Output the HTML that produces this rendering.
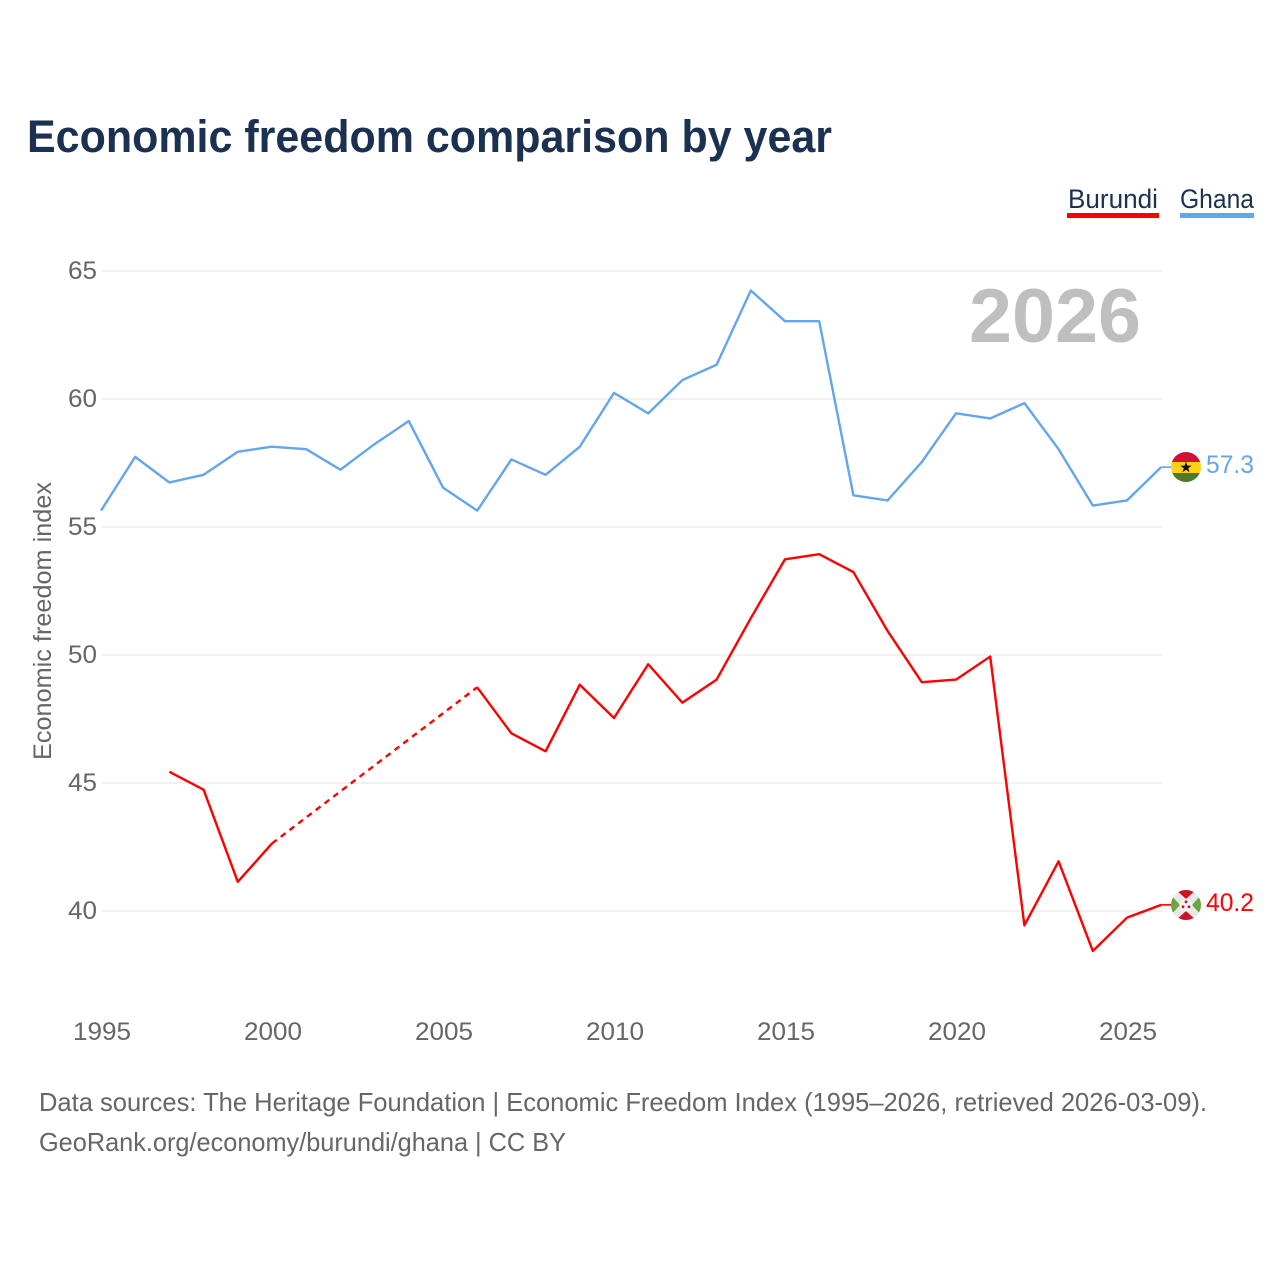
<!DOCTYPE html>
<html lang="en">
<head>
<meta charset="utf-8">
<title>Economic freedom comparison by year</title>
<style>
html,body{margin:0;padding:0;background:#fff;width:1280px;height:1280px;overflow:hidden}
svg{display:block;font-family:"Liberation Sans",sans-serif}
</style>
</head>
<body>
<svg id="chart" width="1280" height="1280" viewBox="0 0 1280 1280" xmlns="http://www.w3.org/2000/svg">
  <defs>
    <clipPath id="clip-ghana"><circle cx="1186" cy="467" r="15"/></clipPath>
    <clipPath id="clip-burundi"><circle cx="1186" cy="905" r="15"/></clipPath>
  </defs>
  <text x="27" y="152" font-size="45" font-weight="700" fill="#1a3152" textLength="805" lengthAdjust="spacingAndGlyphs">Economic freedom comparison by year</text>

  <g>
    <g>
      <text x="1068" y="208" font-size="27" fill="#1a3152" textLength="90" lengthAdjust="spacingAndGlyphs">Burundi</text>
      <rect x="1067" y="213" width="92" height="5" fill="#ff0000"/>
    </g>
    <g>
      <text x="1180" y="208" font-size="27" fill="#1a3152" textLength="74" lengthAdjust="spacingAndGlyphs">Ghana</text>
      <rect x="1180" y="213" width="74" height="5" fill="#63a6ed"/>
    </g>
  </g>

  <g id="grid"></g>
  <g id="y-ticks"></g>
  <g id="x-ticks"></g>

  <text transform="translate(51,760) rotate(-90)" font-size="25" fill="#666666" textLength="278" lengthAdjust="spacingAndGlyphs">Economic freedom index</text>

  <text x="969" y="342" font-size="76" font-weight="700" fill="#bfbfbf" textLength="172" lengthAdjust="spacingAndGlyphs">2026</text>

  <g id="series" transform="translate(-1,-1)"></g>

  <g clip-path="url(#clip-ghana)">
    <rect x="1171" y="452" width="30" height="10" fill="#d21034"/>
    <rect x="1171" y="462" width="30" height="11" fill="#fcd116"/>
    <rect x="1171" y="473" width="30" height="10" fill="#4f7a28"/>
    <polygon points="1186,461.5 1187.4,465.6 1191.7,465.6 1188.2,468.2 1189.5,472.3 1186,469.8 1182.5,472.3 1183.8,468.2 1180.3,465.6 1184.6,465.6" fill="#111"/>
  </g>
  <g clip-path="url(#clip-burundi)">
    <rect x="1171" y="890" width="30" height="30" fill="#e8e8e8"/>
    <polygon points="1175,889 1197,889 1186,899" fill="#ce1126"/>
    <polygon points="1175,921 1197,921 1186,911" fill="#ce1126"/>
    <polygon points="1170,894 1170,916 1180,905" fill="#6ba53f"/>
    <polygon points="1202,894 1202,916 1192,905" fill="#6ba53f"/>
    <circle cx="1186" cy="905" r="6.5" fill="#f4f4f4"/>
    <circle cx="1186" cy="901.8" r="1.4" fill="#ce1126"/>
    <circle cx="1183" cy="906.8" r="1.4" fill="#ce1126"/>
    <circle cx="1189" cy="906.8" r="1.4" fill="#ce1126"/>
  </g>

  <text x="1206" y="473" font-size="25" fill="#63a6ed" textLength="48" lengthAdjust="spacingAndGlyphs">57.3</text>
  <text x="1206" y="911" font-size="25" fill="#ff0000" textLength="48" lengthAdjust="spacingAndGlyphs">40.2</text>

  <text x="39" y="1111" font-size="26" fill="#666666" textLength="1168" lengthAdjust="spacingAndGlyphs">Data sources: The Heritage Foundation | Economic Freedom Index (1995–2026, retrieved 2026-03-09).</text>
  <text x="39" y="1151" font-size="26" fill="#666666" textLength="527" lengthAdjust="spacingAndGlyphs">GeoRank.org/economy/burundi/ghana | CC BY</text>
</svg>
<script>
const years = [1995,1996,1997,1998,1999,2000,2001,2002,2003,2004,2005,2006,2007,2008,2009,2010,2011,2012,2013,2014,2015,2016,2017,2018,2019,2020,2021,2022,2023,2024,2025,2026];
const ghanaValues = [55.6,57.7,56.7,57.0,57.9,58.1,58.0,57.2,58.2,59.1,56.5,55.6,57.6,57.0,58.1,60.2,59.4,60.7,61.3,64.2,63.0,63.0,56.2,56.0,57.5,59.4,59.2,59.8,58.0,55.8,56.0,57.3];
const burundiValues = [null,null,45.4,44.7,41.1,42.6,null,null,null,null,null,48.7,46.9,46.2,48.8,47.5,49.6,48.1,49.0,51.4,53.7,53.9,53.2,50.9,48.9,49.0,49.9,39.4,41.9,38.4,39.7,40.2];
const yTickValues = [40,45,50,55,60,65];
const xTickValues = [1995,2000,2005,2010,2015,2020,2025];

const NS = 'http://www.w3.org/2000/svg';
const xScale = function (year) { return 102 + (year - 1995) * (1128 - 102) / 30; };
const yScale = function (value) { return 911 - (value - 40) * (911 - 271) / 25; };

function make(tag, parent, attrs) {
  const el = document.createElementNS(NS, tag);
  Object.keys(attrs).forEach(function (k) { el.setAttribute(k, attrs[k]); });
  parent.appendChild(el);
  return el;
}

const gridGroup = document.getElementById('grid');
const yTickGroup = document.getElementById('y-ticks');
yTickValues.forEach(function (v) {
  const line = make('line', gridGroup, { x1: 102, x2: 1162, y1: yScale(v), y2: yScale(v), stroke: '#ececec', 'stroke-width': 1.6 });
  
  
  const label = make('text', yTickGroup, { x: 97, y: yScale(v) + 8, 'text-anchor': 'end', 'font-size': 25, fill: '#666666', textLength: 29, lengthAdjust: 'spacingAndGlyphs' });
  label.textContent = v;
  
  
});

const xTickGroup = document.getElementById('x-ticks');
xTickValues.forEach(function (year) {
  const label = make('text', xTickGroup, { x: xScale(year) - 29, y: 1040, 'font-size': 25, fill: '#666666', textLength: 58, lengthAdjust: 'spacingAndGlyphs' });
  label.textContent = year;
  
  
});

const seriesGroup = document.getElementById('series');
function drawSeries(name, values, color) {
  let solid = '';
  let dashed = '';
  let prev = -1;
  values.forEach(function (v, i) {
    if (v === null) return;
    const pt = xScale(years[i]).toFixed(2) + ' ' + yScale(v).toFixed(2);
    if (prev === -1) {
      solid += 'M' + pt;
    } else if (i - prev > 1) {
      dashed += 'M' + xScale(years[prev]).toFixed(2) + ' ' + yScale(values[prev]).toFixed(2) + 'L' + pt;
      solid += 'M' + pt;
    } else {
      solid += 'L' + pt;
    }
    prev = i;
  });
  const line = make('path', seriesGroup, { d: solid, fill: 'none', stroke: color, 'stroke-width': 2.4, 'stroke-linejoin': 'round' });
  
  
  if (dashed) {
    const gap = make('path', seriesGroup, { d: dashed, fill: 'none', stroke: color, 'stroke-width': 2.4, 'stroke-dasharray': '6 5' });
    
    
  }
  const lastValue = values[values.length - 1];
  const lastYear = years[years.length - 1];
  const connector = make('line', seriesGroup, { x1: xScale(lastYear), x2: xScale(lastYear) + 10, y1: yScale(lastValue), y2: yScale(lastValue), stroke: color, 'stroke-width': 1.6 });
  
  
}
drawSeries('ghana', ghanaValues, '#63a6ed');
drawSeries('burundi', burundiValues, '#ff0000');
</script>
</body>
</html>
